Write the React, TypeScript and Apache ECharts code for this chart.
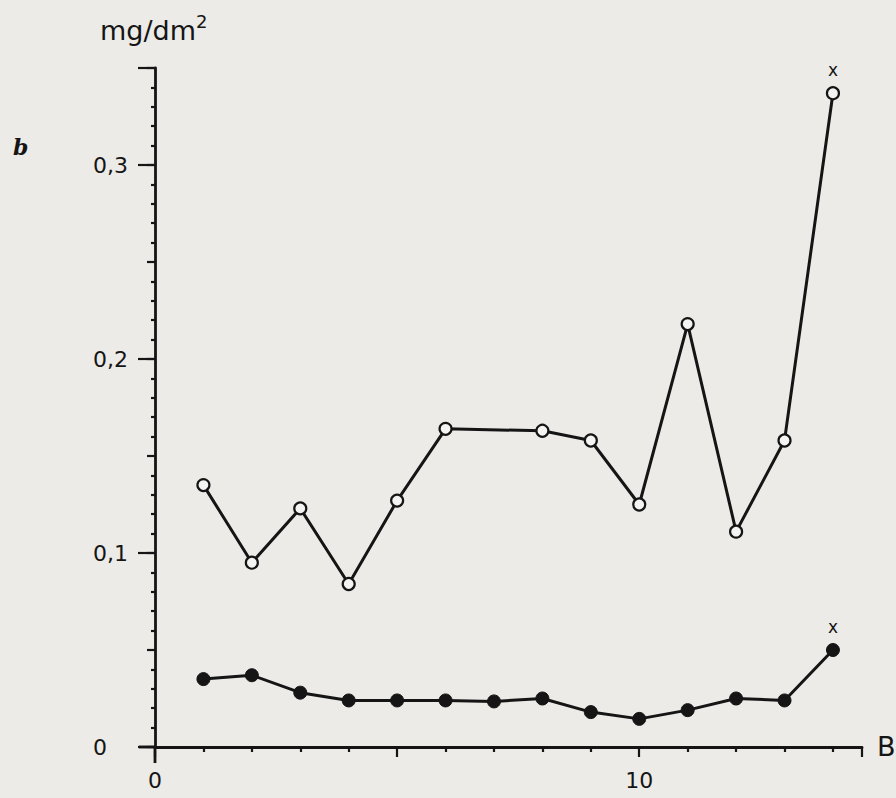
import React, { useEffect, useRef } from "react";
import * as echarts from "echarts";

const openX = [1, 2, 3, 4, 5, 6, 8, 9, 10, 11, 12, 13, 14];
const openY = [0.135, 0.095, 0.123, 0.084, 0.127, 0.164, 0.163, 0.158, 0.125, 0.218, 0.111, 0.158, 0.337];
const filledX = [1, 2, 3, 4, 5, 6, 7, 8, 9, 10, 11, 12, 13, 14];
const filledY = [0.035, 0.037, 0.028, 0.024, 0.024, 0.024, 0.0235, 0.025, 0.018, 0.0145, 0.019, 0.025, 0.024, 0.05];
const xLabels = [0, 10];
const yLabels = [0.1, 0.2, 0.3];
const markedX = 14;

const FONT = "DejaVu Sans";
const INK = "#151515";

export default function App() {
  const ref = useRef<HTMLDivElement>(null);
  useEffect(() => {
    if (!ref.current) return;
    const chart = echarts.init(ref.current, undefined, { renderer: "svg" });
    const mk = (xs: number[], ys: number[]) =>
      xs.map((x, i) => {
        const item: any = { value: [x, ys[i]] };
        if (x === markedX) {
          item.label = {
            show: true,
            formatter: "x",
            position: "top",
            distance: 8,
            fontFamily: FONT,
            fontSize: 17,
            color: INK,
          };
        }
        return item;
      });
    chart.setOption({
      animation: false,
      backgroundColor: "#ecebe8",
      grid: { left: 155, right: 34, top: 68, bottom: 51 },
      xAxis: {
        type: "value",
        min: 0,
        max: 14.6,
        interval: 5,
        axisLine: { show: true, onZero: false, lineStyle: { color: INK, width: 2.8 } },
        axisTick: { show: true, length: 10, lineStyle: { color: INK, width: 2.2 } },
        minorTick: { show: true, splitNumber: 5, length: 5, lineStyle: { color: INK, width: 2.2 } },
        splitLine: { show: false },
        axisLabel: {
          margin: 22,
          fontFamily: FONT,
          fontSize: 22,
          color: INK,
          formatter: (v: number) => (xLabels.includes(v) ? String(v) : ""),
        },
      },
      yAxis: [
        {
          type: "value",
          min: 0,
          max: 0.35,
          interval: 0.1,
          position: "left",
          axisLine: { show: true, onZero: false, lineStyle: { color: INK, width: 2.8 } },
          axisTick: { show: true, length: 17, lineStyle: { color: INK, width: 2.2 } },
          splitLine: { show: false },
          axisLabel: {
            align: "left",
            margin: 62,
            fontFamily: FONT,
            fontSize: 22,
            color: INK,
            formatter: (v: number) => {
              if (Math.abs(v) < 1e-9) return "0";
              const hit = yLabels.find((l) => Math.abs(l - v) < 1e-6);
              return hit !== undefined ? hit.toFixed(1).replace(".", ",") : "";
            },
          },
        },
        {
          type: "value",
          min: 0,
          max: 0.35,
          interval: 0.05,
          position: "left",
          offset: 0,
          axisLine: { show: false },
          axisTick: { show: true, length: 8, lineStyle: { color: INK, width: 2.2 } },
          minorTick: { show: true, splitNumber: 5, length: 4, lineStyle: { color: INK, width: 2.2 } },
          splitLine: { show: false },
          axisLabel: { show: false },
        },
      ],
      series: [
        {
          type: "line",
          data: mk(openX, openY),
          symbol: "circle",
          symbolSize: 12,
          lineStyle: { color: INK, width: 3 },
          itemStyle: { color: "#f4f4f2", borderColor: INK, borderWidth: 2.2 },
          z: 3,
        },
        {
          type: "line",
          data: mk(filledX, filledY),
          symbol: "circle",
          symbolSize: 13,
          lineStyle: { color: INK, width: 3 },
          itemStyle: { color: INK, borderColor: INK, borderWidth: 1 },
          z: 3,
        },
      ],
    });
    const p0 = chart.convertToPixel({ gridIndex: 0 }, [0, 0]) as number[];
    chart.setOption({
      graphic: [
        {
          type: "line",
          shape: { x1: p0[0] - 16, y1: p0[1], x2: p0[0], y2: p0[1] },
          style: { stroke: INK, lineWidth: 2.8 },
        },
        {
          type: "line",
          shape: { x1: p0[0], y1: p0[1], x2: p0[0], y2: p0[1] + 16 },
          style: { stroke: INK, lineWidth: 2.8 },
        },
        {
          type: "text",
          left: 100,
          top: 12,
          style: {
            text: "{a|mg/dm}{s|2}",
            rich: {
              a: { fontFamily: FONT, fontSize: 27, fill: INK, lineHeight: 36 },
              s: { fontFamily: FONT, fontSize: 18, fill: INK, verticalAlign: "top", lineHeight: 22 },
            },
          },
        },
        {
          type: "text",
          left: 877,
          top: 733,
          style: { text: "B", fontFamily: FONT, fontSize: 27, fill: INK },
        },
        {
          type: "text",
          left: 13,
          top: 136,
          style: {
            text: "b",
            fontFamily: "DejaVu Serif",
            fontStyle: "italic",
            fontWeight: "bold",
            fontSize: 22,
            fill: INK,
          },
        },
      ],
    });
    return () => chart.dispose();
  }, []);
  return (
    <div
      ref={ref}
      style={{ position: "fixed", left: 0, top: 0, width: 896, height: 798 }}
    />
  );
}
